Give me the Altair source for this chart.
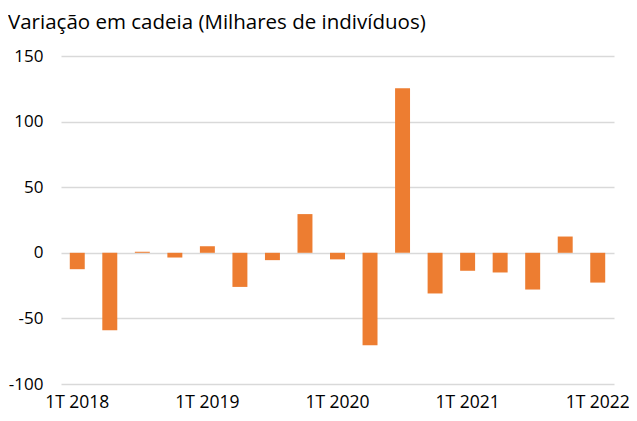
import altair as alt
import pandas as pd

quarters = ["1T 2018", "2T 2018", "3T 2018", "4T 2018",
            "1T 2019", "2T 2019", "3T 2019", "4T 2019",
            "1T 2020", "2T 2020", "3T 2020", "4T 2020",
            "1T 2021", "2T 2021", "3T 2021", "4T 2021",
            "1T 2022"]
values = [-12.5, -59, 0.8, -3.6, 5, -26, -5.6, 29.5, -5, -70.5, 125.5,
          -31, -13.7, -15, -28, 12.4, -22.7]
shown_labels = ["1T 2018", "1T 2019", "1T 2020", "1T 2021", "1T 2022"]
y_ticks = [-100, -50, 0, 50, 100, 150]
subtitle = ["Variação em cadeia (Milhares de indivíduos)"]

df = pd.DataFrame({"q": quarters, "v": values})
FONT = "Open Sans"

bars = alt.Chart(df).mark_bar(color="#ED7D31").encode(
    x=alt.X("q:N", sort=quarters,
            scale=alt.Scale(paddingInner=0.54),
            axis=alt.Axis(title=None, values=shown_labels, labelAngle=0,
                          ticks=False, domain=False, grid=False,
                          labelFont=FONT, labelFontSize=17.5, labelColor="#000000",
                          labelPadding=9)),
    y=alt.Y("v:Q", scale=alt.Scale(domain=[-100, 150], nice=False),
            axis=alt.Axis(title=None, values=y_ticks, ticks=False, domain=False,
                          grid=True, gridColor="#d9d9d9", gridWidth=1.5,
                          labelExpr="toString(datum.value)",
                          labelFont=FONT, labelFontSize=17, labelColor="#000000",
                          labelPadding=18)),
)

sub = alt.Chart(pd.DataFrame({"t": subtitle})).mark_text(
    align="left", baseline="middle", font=FONT, fontSize=20.5, color="#000000"
).encode(text="t:N", x=alt.value(-53), y=alt.value(-33))

chart = alt.layer(bars, sub).properties(
    width=553, height=328,
    padding={"left": 53, "top": 48, "right": 15, "bottom": 29},
    autosize=alt.AutoSizeParams(type="none"),
).configure_view(stroke=None)

chart.save("out.html", embed_options={"renderer": "svg", "actions": False})
